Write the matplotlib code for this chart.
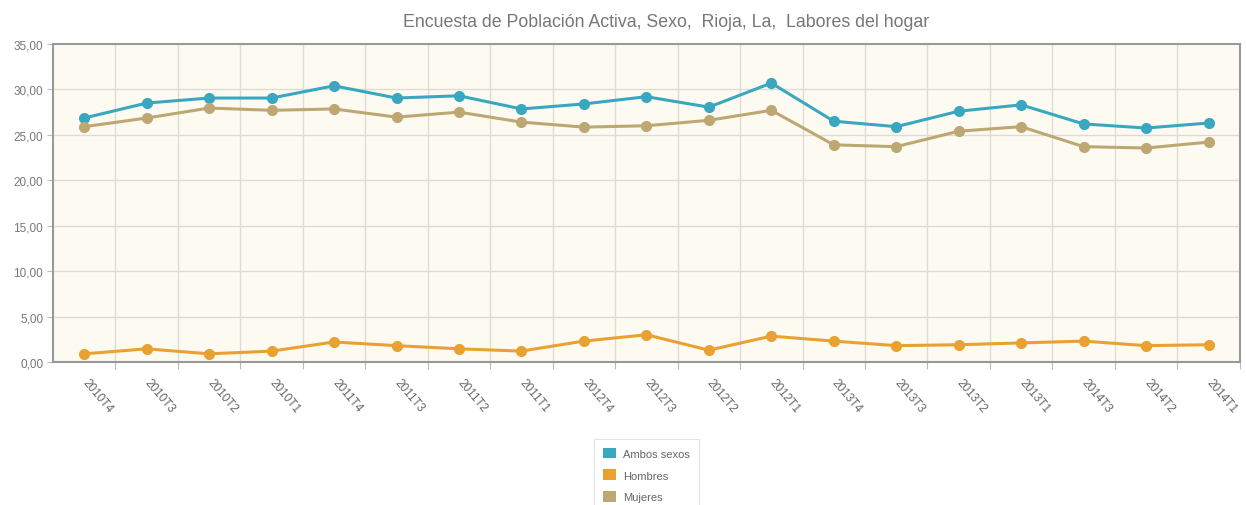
import numpy as np
import matplotlib
matplotlib.use('Agg')
import matplotlib.pyplot as plt
from matplotlib.patches import Patch

plt.rcParams['font.family'] = ['Liberation Sans', 'DejaVu Sans']

periods = ['2010T4', '2010T3', '2010T2', '2010T1', '2011T4', '2011T3', '2011T2',
           '2011T1', '2012T4', '2012T3', '2012T2', '2012T1', '2013T4', '2013T3',
           '2013T2', '2013T1', '2014T3', '2014T2', '2014T1']
ambos = [26.85, 28.5, 29.05, 29.05, 30.4, 29.05, 29.3, 27.85, 28.4, 29.2,
         28.05, 30.7, 26.5, 25.9, 27.6, 28.3, 26.2, 25.75, 26.3]
hombres = [0.9, 1.45, 0.9, 1.2, 2.2, 1.8, 1.45, 1.2, 2.3, 3.0,
           1.3, 2.85, 2.3, 1.8, 1.9, 2.1, 2.3, 1.8, 1.9]
mujeres = [25.9, 26.85, 27.95, 27.7, 27.85, 26.95, 27.5, 26.4, 25.85, 26.0,
           26.6, 27.7, 23.9, 23.7, 25.4, 25.9, 23.7, 23.55, 24.2]
yticks = [0, 5, 10, 15, 20, 25, 30, 35]

C_AMBOS = '#3aa7c0'
C_HOMBRES = '#e9a132'
C_MUJERES = '#bda873'

fig = plt.figure(figsize=(12.46, 5.06), dpi=100)
ax = fig.add_axes([0.0425, 0.2826, 0.9525, 0.6285])
ax.set_facecolor('#fdfbf1')

x = np.arange(len(periods))
ax.set_xlim(-0.5, len(periods) - 0.5)
ax.set_ylim(0, 35)

# grid between categories and at y ticks
for k in range(len(periods) - 1):
    ax.axvline(k + 0.5, color='#dcdcd6', lw=1, zorder=1)
for v in yticks[1:-1]:
    ax.axhline(v, color='#dcdcd6', lw=1, zorder=1)

for vals, col in [(ambos, C_AMBOS), (mujeres, C_MUJERES), (hombres, C_HOMBRES)]:
    ax.plot(x, vals, color=col, lw=2.2, marker='o', ms=7, zorder=3)

ax.set_yticks(yticks)
ax.set_yticklabels([f'{v},00' for v in yticks], fontsize=8.5, color='#777777')
ax.set_xticks(x + 0.5, minor=False)
ax.set_xticklabels([])
ax.tick_params(axis='x', length=5, color='#bbbbbb', direction='out')
ax.tick_params(axis='y', length=4, color='#bbbbbb', pad=3)

for xi, lab in zip(x, periods):
    ax.text(xi + 0.08, -1.6, lab, rotation=-50, ha='left', va='top',
            rotation_mode='anchor', fontsize=8.5, color='#666666')

for s in ax.spines.values():
    s.set_color('#999999')
    s.set_linewidth(1.5)

fig.text(0.535, 0.955, 'Encuesta de Población Activa, Sexo,  Rioja, La,  Labores del hogar',
         ha='center', va='center', fontsize=12.8, color='#777777')

handles = [Patch(facecolor=C_AMBOS, label='Ambos sexos'),
           Patch(facecolor=C_HOMBRES, label='Hombres'),
           Patch(facecolor=C_MUJERES, label='Mujeres')]
leg = fig.legend(handles=handles, loc='upper left', bbox_to_anchor=(0.475, 0.135),
                 fontsize=8, frameon=True, handlelength=1.2, handleheight=1.1,
                 labelspacing=0.95, borderpad=0.5, handletextpad=0.6)
leg.get_frame().set_edgecolor('#dddddd')
leg.get_frame().set_linewidth(0.8)
leg.get_frame().set_boxstyle('square')
for t in leg.get_texts():
    t.set_color('#666666')

fig.savefig('out.png', dpi=100)
